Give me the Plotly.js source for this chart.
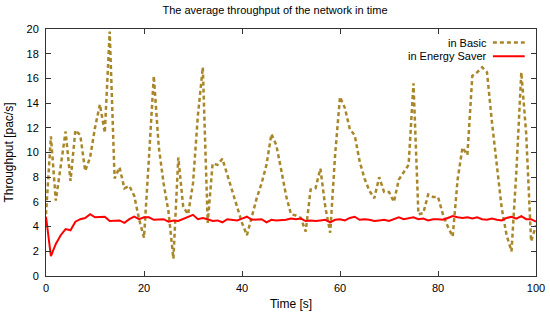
<!DOCTYPE html>
<html>
<head>
<meta charset="utf-8">
<script src="https://cdn.plot.ly/plotly-3.0.1.min.js"></script>
<style>html,body{margin:0;padding:0;background:#fff;}#chart{width:550px;height:320px;}</style>
</head>
<body>
<div id="chart"></div>
<script>
var timeS = [];
for (var i = 0; i <= 100; i++) timeS.push(i);

var basic = [5.0, 11.3, 6.1, 9.0, 11.7, 7.7, 11.8, 11.4, 8.5, 9.6,
  12.0, 13.9, 11.6, 19.8, 7.9, 8.8, 7.1, 7.3, 6.5, 4.6,
  3.1, 9.5, 16.2, 10.5, 7.5, 5.2, 1.4, 9.6, 5.6, 5.0,
  7.5, 13.0, 16.9, 4.3, 9.1, 9.0, 9.5, 8.2, 6.8, 5.6,
  4.3, 3.3, 4.8, 6.3, 7.5, 9.0, 11.5, 10.6, 8.6, 6.5,
  5.0, 4.9, 4.7, 3.6, 7.0, 7.1, 8.7, 5.6, 3.5, 9.8,
  14.5, 13.6, 11.9, 11.4, 9.3, 7.9, 6.9, 6.3, 8.0, 6.8,
  6.8, 6.0, 7.8, 8.4, 9.0, 15.6, 5.0, 5.1, 6.6, 6.4,
  6.4, 5.0, 4.0, 3.2, 7.8, 10.4, 9.8, 16.2, 16.5, 16.9,
  16.5, 12.5, 8.8, 5.5, 3.3, 2.0, 8.5, 16.5, 11.5, 2.8,
  4.1];

var energySaver = [4.8, 1.6, 2.6, 3.3, 3.8, 3.7, 4.4, 4.6, 4.7, 5.0,
  4.75, 4.75, 4.8, 4.45, 4.5, 4.5, 4.3, 4.6, 4.8, 4.6,
  4.75, 4.75, 4.55, 4.55, 4.6, 4.4, 4.5, 4.45, 4.6, 4.75,
  4.95, 4.6, 4.7, 4.6, 4.45, 4.5, 4.35, 4.6, 4.55, 4.5,
  4.65, 4.8, 4.55, 4.6, 4.6, 4.35, 4.55, 4.5, 4.5, 4.55,
  4.65, 4.6, 4.65, 4.45, 4.5, 4.45, 4.5, 4.55, 4.35, 4.55,
  4.6, 4.5, 4.7, 4.8, 4.55, 4.6, 4.55, 4.45, 4.5, 4.55,
  4.45, 4.6, 4.75, 4.6, 4.7, 4.75, 4.6, 4.65, 4.5, 4.6,
  4.6, 4.55, 4.7, 4.85, 4.75, 4.7, 4.75, 4.65, 4.75, 4.6,
  4.55, 4.65, 4.55, 4.5, 4.7, 4.8, 4.65, 4.85, 4.6, 4.6,
  4.4];

var seriesNames = ['in Basic', 'in Energy Saver'];
var xTicks = [0, 20, 40, 60, 80, 100];
var yTicks = [0, 2, 4, 6, 8, 10, 12, 14, 16, 18, 20];

var basicColor = '#a8862a';
var saverColor = '#ff0000';
var fontFam = 'Liberation Sans, Arial, sans-serif';

var traces = [
  {x: timeS, y: basic, name: seriesNames[0], type: 'scatter', mode: 'lines',
   line: {color: basicColor, width: 2.5, dash: '4px,3px'}, showlegend: false},
  {x: timeS, y: energySaver, name: seriesNames[1], type: 'scatter', mode: 'lines',
   line: {color: saverColor, width: 2}, showlegend: false}
];

var axisCommon = {
  showgrid: false, zeroline: false, showline: true, linecolor: '#333', linewidth: 1,
  mirror: 'ticks', ticks: 'inside', ticklen: 5, tickcolor: '#333', tickwidth: 1,
  tickfont: {family: fontFam, size: 11, color: '#000'}
};

var layout = {
  width: 550, height: 320,
  margin: {l: 46, r: 14, t: 29, b: 44},
  paper_bgcolor: '#fff', plot_bgcolor: '#fff',
  font: {family: fontFam, size: 11, color: '#000'},
  title: {text: 'The average throughput of the network in time', font: {family: fontFam, size: 11, color: '#000'},
          x: 0.5, xanchor: 'center', y: 0.969, yanchor: 'middle'},
  xaxis: Object.assign({}, axisCommon, {range: [0, 100], tickvals: xTicks, ticktext: xTicks.map(String),
          ticklabelstandoff: 2,
          title: {text: 'Time [s]', font: {family: fontFam, size: 12}, standoff: 6}}),
  yaxis: Object.assign({}, axisCommon, {range: [0, 20], tickvals: yTicks, ticktext: yTicks.map(String),
          ticklabelstandoff: 4,
          title: {text: 'Throughput [pac/s]', font: {family: fontFam, size: 12}, standoff: 10}}),
  annotations: [
    {xref: 'paper', yref: 'paper', x: 0.905, y: 0.945, xanchor: 'right', yanchor: 'middle', showarrow: false,
     text: seriesNames[0], font: {family: fontFam, size: 11, color: '#000'}},
    {xref: 'paper', yref: 'paper', x: 0.905, y: 0.89, xanchor: 'right', yanchor: 'middle', showarrow: false,
     text: seriesNames[1], font: {family: fontFam, size: 11, color: '#000'}}
  ],
  shapes: [
    {type: 'line', xref: 'paper', yref: 'paper', x0: 0.912, x1: 0.977, y0: 0.945, y1: 0.945,
     line: {color: basicColor, width: 2.5, dash: '4px,3px'}},
    {type: 'line', xref: 'paper', yref: 'paper', x0: 0.912, x1: 0.977, y0: 0.89, y1: 0.89,
     line: {color: saverColor, width: 2}}
  ]
};

Plotly.newPlot('chart', traces, layout, {staticPlot: true, displayModeBar: false});
</script>
</body>
</html>
